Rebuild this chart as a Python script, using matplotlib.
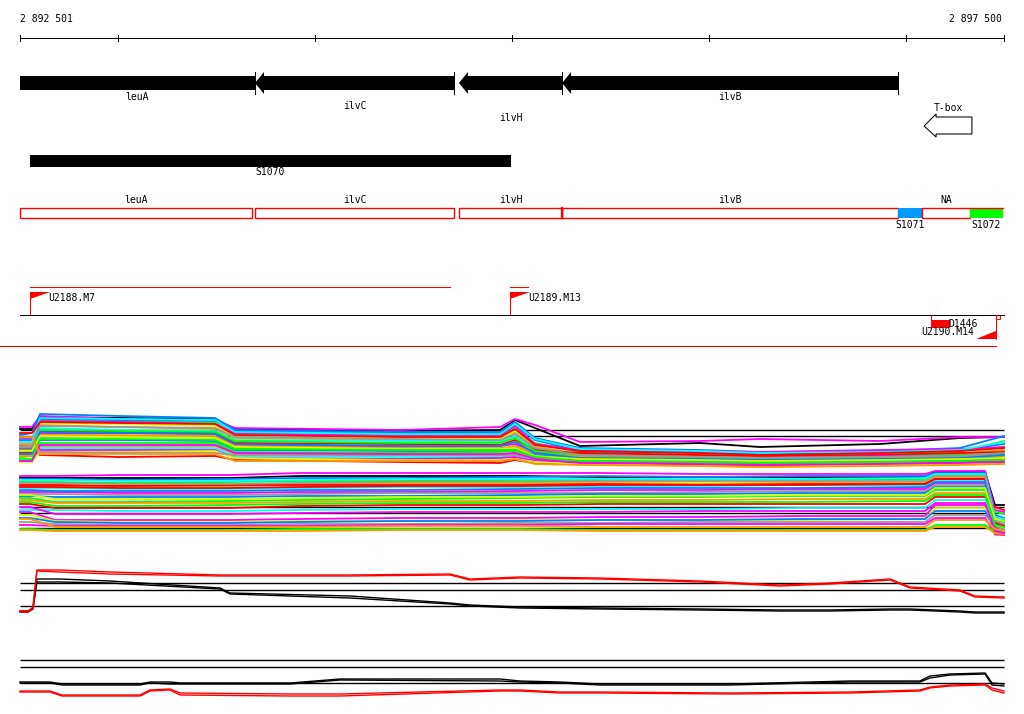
import matplotlib
matplotlib.use("Agg")
import matplotlib.pyplot as plt
from matplotlib.patches import Rectangle, Polygon

W, H = 1024, 714
START, END = 2892501, 2897500
PX_L, PX_R = 20, 1004
BPP = (END - START) / (PX_R - PX_L)
XLIM = (START - PX_L * BPP, START + (W - PX_L) * BPP)
FONT = dict(family="DejaVu Sans Mono", fontsize=7)
LW = 0.75

# ---------------- data ----------------
ruler_ticks = [2893000, 2894000, 2895000, 2896000, 2897000]

gene_names = ["leuA", "ilvC", "ilvH", "ilvB"]
gene_starts = [2891800, 2893695, 2894731, 2895255]
gene_ends = [2893695, 2894706, 2895255, 2896962]
gene_label_rows = [0, 1, 2, 0]

tbox_name = "T-box"
tbox_start, tbox_end = 2897094, 2897337

s1070_name = "S1070"
s1070_start, s1070_end = 2892552, 2894995

seg_names = ["leuA", "ilvC", "ilvH", "ilvB", "S1071", "NA", "S1072"]
seg_starts = [2892501, 2893695, 2894731, 2895255, 2896962, 2897083, 2897327]
seg_ends = [2893680, 2894706, 2895255, 2896962, 2897083, 2897327, 2897495]
seg_fill = [None, None, None, None, "#0099ff", None, "#00ff00"]
seg_label_below = [False, False, False, False, True, False, True]

tu_names = ["U2188.M7", "U2189.M13"]
tu_starts = [2892552, 2894990]
tu_ends = [2894686, 2895082]
tu_rev_name = "U2190.M14"
tu_rev_pos = 2897459
d_name = "D1446"
d_start, d_end = 2897129, 2897226

palette = ["#000000", "#ff00ff", "#0080ff", "#00ff00", "#ccff00", "#ff9900",
           "#00ffff", "#ff0000", "#ff00ff", "#999999", "#0080ff", "#00ff00",
           "#ff9900", "#ff0000", "#00ffff", "#ff00ff", "#ccff00", "#0080ff",
           "#999999", "#ff00ff", "#00ff00", "#ff9900", "#00ffff", "#ff0000",
           "#999999", "#0080ff", "#ccff00", "#00ff00", "#ff00ff", "#ff9900"]

# Panel A (upper multi-sample profile)
a_x = [2892501, 2892562, 2892603, 2893009, 2893492, 2893593, 2894432, 2894940,
       2895016, 2895117, 2895346, 2895956, 2896260, 2896870, 2897276, 2897500]
a_ref = [50, 44]
a_lines = [
    [51, 51, 63, 62, 61, 51, 49, 50, 60, 52, 34, 37, 33, 36, 42, 43],
    [53, 53, 64, 61, 60, 52, 50, 53, 61, 55, 38, 39, 41, 39, 43, 43],
    [45, 47, 66, 64, 62, 50, 48, 48, 58, 42, 32, 30, 28, 29, 32, 44],
    [25, 28, 60, 59, 57, 46, 45, 45, 52, 37, 28, 25, 24, 26, 28, 39],
    [22, 25, 57, 56, 54, 44, 42, 41, 49, 34, 25, 22, 21, 23, 25, 34],
    [33, 33, 55, 53, 51, 42, 40, 39, 47, 33, 26, 24, 23, 24, 26, 30],
    [28, 30, 52, 50, 49, 40, 39, 38, 44, 31, 24, 22, 20, 22, 24, 28],
    [30, 30, 49, 48, 47, 37, 36, 35, 40, 30, 27, 25, 24, 25, 27, 28],
    [35, 35, 46, 47, 46, 35, 33, 34, 36, 28, 25, 23, 22, 24, 25, 26],
    [32, 32, 43, 44, 43, 32, 31, 31, 33, 26, 23, 22, 21, 23, 23, 24],
    [27, 28, 40, 40, 39, 30, 29, 29, 31, 25, 22, 21, 19, 21, 22, 23],
    [23, 24, 37, 37, 37, 28, 27, 28, 29, 23, 20, 19, 18, 20, 21, 21],
    [36, 36, 34, 34, 34, 26, 25, 25, 27, 22, 21, 20, 19, 19, 20, 22],
    [28, 28, 25, 23, 24, 20, 18, 17, 20, 17, 16, 15, 14, 16, 18, 20],
    [20, 20, 32, 32, 32, 24, 23, 23, 25, 20, 18, 17, 16, 18, 19, 19],
    [42, 42, 30, 30, 30, 22, 21, 22, 23, 19, 18, 18, 17, 18, 19, 18],
    [18, 18, 28, 28, 29, 22, 20, 20, 21, 18, 16, 14, 13, 15, 16, 17],
    [40, 40, 61, 60, 59, 49, 47, 47, 55, 40, 29, 27, 26, 28, 30, 36],
    [25, 25, 28, 27, 27, 25, 25, 25, 25, 22, 20, 19, 18, 19, 20, 20],
    [31, 31, 59, 58, 56, 47, 44, 44, 54, 36, 30, 29, 28, 30, 31, 33],
    [30, 30, 50, 49, 48, 39, 37, 37, 42, 29, 24, 23, 22, 23, 25, 26],
    [24, 24, 45, 45, 44, 34, 32, 32, 34, 27, 23, 21, 20, 22, 23, 24],
    [38, 38, 62, 61, 60, 48, 46, 46, 56, 41, 31, 29, 27, 28, 30, 38],
    [47, 47, 58, 57, 56, 45, 43, 43, 51, 35, 29, 27, 25, 27, 29, 32],
    [34, 34, 54, 53, 52, 43, 41, 40, 46, 32, 25, 23, 22, 23, 24, 27],
    [26, 26, 48, 47, 46, 36, 34, 34, 38, 27, 22, 21, 20, 21, 22, 25],
    [29, 29, 44, 43, 42, 33, 31, 31, 32, 24, 21, 20, 19, 20, 21, 22],
    [21, 21, 41, 41, 40, 31, 30, 30, 30, 23, 19, 18, 17, 18, 19, 20],
    [19, 19, 35, 35, 35, 27, 26, 26, 27, 21, 17, 16, 15, 16, 17, 18],
    [43, 43, 26, 26, 26, 19, 19, 19, 21, 16, 15, 14, 13, 14, 15, 16],
]

# Panel B (lower multi-sample profile)
b_x = [2892501, 2892552, 2892679, 2893009, 2893568, 2893924, 2894432, 2895041,
       2895448, 2895956, 2896464, 2897099, 2897150, 2897404, 2897454, 2897500]
b_ref = [38, 32, 17]
b_lines = [
    [67, 67, 67, 67, 67, 69, 69, 69, 68, 68, 68, 68, 73, 73, 40, 40],
    [69, 69, 69, 70, 70, 72, 72, 72, 72, 71, 71, 71, 74, 74, 35, 33],
    [66, 66, 66, 65, 66, 67, 67, 68, 69, 68, 69, 69, 72, 72, 30, 27],
    [63, 63, 63, 62, 63, 64, 64, 65, 65, 65, 65, 66, 70, 70, 25, 23],
    [61, 61, 61, 61, 61, 62, 62, 62, 63, 63, 63, 64, 68, 68, 20, 17],
    [59, 59, 59, 59, 59, 61, 61, 61, 62, 61, 62, 62, 67, 67, 15, 13],
    [57, 57, 57, 56, 56, 57, 58, 58, 59, 59, 60, 60, 65, 65, 13, 11],
    [60, 60, 60, 59, 60, 60, 60, 60, 61, 60, 61, 61, 66, 66, 18, 15],
    [53, 53, 53, 52, 52, 53, 53, 54, 55, 55, 56, 56, 62, 62, 23, 20],
    [51, 51, 51, 50, 50, 51, 52, 52, 52, 53, 54, 54, 60, 60, 27, 25],
    [49, 49, 48, 48, 48, 49, 49, 50, 51, 51, 52, 52, 58, 58, 15, 14],
    [47, 47, 43, 43, 44, 45, 46, 47, 48, 48, 49, 49, 55, 55, 33, 31],
    [45, 45, 42, 42, 42, 43, 44, 44, 45, 45, 46, 46, 52, 52, 10, 10],
    [41, 41, 37, 37, 37, 39, 40, 40, 41, 41, 41, 41, 48, 48, 38, 35],
    [35, 35, 35, 34, 34, 35, 36, 36, 36, 36, 37, 37, 45, 45, 21, 19],
    [33, 33, 25, 25, 25, 26, 27, 27, 28, 28, 29, 29, 40, 40, 17, 12],
    [30, 30, 24, 23, 23, 24, 24, 25, 25, 25, 25, 26, 37, 37, 11, 10],
    [27, 27, 23, 22, 22, 23, 24, 24, 25, 25, 26, 26, 34, 34, 15, 13],
    [23, 23, 21, 20, 20, 21, 21, 22, 22, 23, 23, 23, 30, 30, 19, 15],
    [20, 20, 19, 19, 19, 19, 20, 20, 21, 21, 21, 21, 27, 27, 11, 10],
    [16, 16, 15, 15, 15, 16, 16, 16, 15, 15, 15, 15, 20, 20, 13, 13],
    [15, 15, 14, 14, 14, 14, 15, 15, 14, 14, 14, 14, 18, 18, 12, 11],
    [65, 65, 65, 64, 64, 65, 66, 66, 66, 66, 66, 67, 71, 71, 28, 26],
    [58, 58, 58, 57, 57, 58, 59, 59, 60, 60, 60, 61, 66, 66, 22, 19],
    [62, 62, 62, 61, 61, 62, 63, 63, 64, 64, 64, 64, 69, 69, 24, 21],
    [55, 55, 54, 54, 54, 55, 55, 56, 57, 57, 57, 58, 63, 63, 16, 14],
    [50, 50, 46, 46, 46, 47, 48, 48, 49, 49, 50, 50, 57, 57, 26, 24],
    [43, 43, 39, 39, 40, 41, 42, 42, 43, 43, 43, 44, 50, 50, 20, 18],
    [38, 38, 31, 31, 31, 32, 33, 33, 33, 34, 34, 34, 42, 42, 14, 12],
    [26, 26, 18, 18, 18, 18, 19, 19, 18, 18, 18, 18, 25, 25, 16, 14],
]

# Panel C (summary profiles)
c_x = [2892501, 2892542, 2892567, 2892587, 2892704, 2892958, 2893517, 2893568,
       2894178, 2894686, 2894787, 2895041, 2895448, 2895956, 2896362, 2896616,
       2896921, 2897023, 2897276, 2897353, 2897500]
c_ref = [37, 30, 14]
c_red = [
    [9, 9, 13, 50, 50, 48, 45, 45, 45, 46, 41, 43, 42, 39, 35, 37, 41, 33, 30, 24, 23],
    [8, 8, 12, 49, 48, 46, 44, 44, 44, 45, 40, 42, 41, 38, 34, 36, 40, 32, 29, 23, 22],
]
c_black = [
    [9, 9, 12, 41, 41, 39, 32, 27, 24, 17, 15, 13, 12, 11, 10, 10, 11, 11, 9, 8, 8],
    [8, 8, 11, 38, 38, 37, 31, 26, 22, 16, 14, 12, 11, 10, 9, 9, 10, 10, 8, 7, 7],
]

# Panel D (summary profiles)
d_x = [2892501, 2892653, 2892714, 2893111, 2893161, 2893263, 2893314, 2893873,
       2894127, 2894940, 2895041, 2895244, 2895448, 2896108, 2896718, 2897073,
       2897124, 2897226, 2897404, 2897439, 2897500]
d_ref = [50, 43, 27]
d_black = [
    [28, 28, 26, 26, 28, 28, 27, 27, 31, 31, 29, 28, 26, 26, 29, 29, 34, 36, 37, 27, 26],
    [27, 27, 25, 25, 27, 26, 26, 26, 30, 29, 28, 27, 25, 25, 28, 28, 32, 35, 36, 25, 24],
]
d_red = [
    [19, 19, 15, 15, 20, 21, 17, 16, 16, 20, 20, 18, 18, 17, 18, 20, 23, 25, 26, 22, 19],
    [18, 18, 14, 14, 19, 20, 15, 14, 14, 19, 19, 17, 17, 16, 17, 19, 22, 24, 25, 20, 17],
]

# ---------------- drawing ----------------
fig = plt.figure(figsize=(W / 100, H / 100), dpi=100)
fig.patch.set_facecolor("white")

ax = fig.add_axes([0, 0, 1, 1])
ax.set_xlim(XLIM)
ax.set_ylim(H, 0)
ax.axis("off")

def bp(px):
    return px * BPP

def fmt(v):
    return f"{v:,}".replace(",", " ")

# ruler
ry = 38
ax.plot([START, END], [ry, ry], color="black", lw=LW)
for t in [START] + ruler_ticks + [END]:
    ax.plot([t, t], [ry - 3, ry + 3], color="black", lw=LW)
ax.text(START, 19, fmt(START), ha="left", va="center", **FONT)
ax.text(END - bp(2), 19, fmt(END), ha="right", va="center", **FONT)

# genes (reverse strand arrows)
gy = 83
hl = bp(9)
label_y = [97, 106, 118]
for name, s, e, row in zip(gene_names, gene_starts, gene_ends, gene_label_rows):
    if s < START:
        ax.add_patch(Rectangle((START, gy - 7), e - START, 14, color="black", lw=0))
        vs = START
    else:
        ax.add_patch(Polygon([(s, gy), (s + hl, gy - 11), (s + hl, gy - 7), (e, gy - 7),
                              (e, gy + 7), (s + hl, gy + 7), (s + hl, gy + 11)],
                             closed=True, color="black", lw=0))
        vs = s
    ax.plot([e, e], [gy - 11, gy + 11], color="black", lw=LW)
    ax.text((vs + e) / 2, label_y[row], name, ha="center", va="center", **FONT)

# T-box
tb_y = 126
ax.add_patch(Polygon([(tbox_end, tb_y - 9), (tbox_start + bp(12), tb_y - 9),
                      (tbox_start + bp(12), tb_y - 12), (tbox_start, tb_y),
                      (tbox_start + bp(12), tb_y + 11), (tbox_start + bp(12), tb_y + 8),
                      (tbox_end, tb_y + 8)], closed=True, fill=False,
                     edgecolor="black", lw=LW))
ax.text((tbox_start + tbox_end) / 2, 108, tbox_name, ha="center", va="center", **FONT)

# S1070
ax.add_patch(Rectangle((s1070_start, 155), s1070_end - s1070_start, 12, color="black", lw=0))
ax.text((s1070_start + s1070_end) / 2, 172, s1070_name, ha="center", va="center", **FONT)

# segmentation boxes
sy0, sy1 = 207.5, 217.5
for name, s, e, fc, below in zip(seg_names, seg_starts, seg_ends, seg_fill, seg_label_below):
    if fc is None:
        ax.add_patch(Rectangle((s, sy0), e - s, sy1 - sy0, fill=False, edgecolor="red", lw=1.0))
    else:
        ax.add_patch(Rectangle((s, sy0), e - s, sy1 - sy0, facecolor=fc, edgecolor="none"))
    if below:
        ax.text((s + e) / 2, 225, name, ha="center", va="center", **FONT)
    else:
        ax.text((s + e) / 2, 200, name, ha="center", va="center", **FONT)
ax.plot([seg_starts[3], seg_starts[3]], [sy0, sy1], color="red", lw=1.6)
ax.plot([seg_ends[5], seg_ends[6]], [sy0, sy0], color="red", lw=1.0)

# transcription units
for name, s, e in zip(tu_names, tu_starts, tu_ends):
    ax.plot([s, e], [287, 287], color="red", lw=LW)
    ax.plot([s, s], [292, 315], color="red", lw=LW)
    ax.add_patch(Polygon([(s, 292), (s + bp(20), 292), (s, 299)], closed=True,
                         color="red", lw=0))
    ax.text(s + bp(18), 298, name, ha="left", va="center", **FONT)
ax.plot([START, END], [315, 315], color="black", lw=LW)

# D1446
ax.add_patch(Rectangle((d_start, 320), d_end - d_start, 8, color="red", lw=0))
ax.plot([d_start, d_start], [315, 328], color="red", lw=LW)
ax.text(d_end - bp(2), 324, d_name, ha="left", va="center", **FONT)

# reverse TU
ax.plot([tu_rev_pos, tu_rev_pos], [315, 339], color="red", lw=LW)
ax.add_patch(Polygon([(tu_rev_pos, 339), (tu_rev_pos - bp(20), 339), (tu_rev_pos, 331)],
                     closed=True, color="red", lw=0))
ax.add_patch(Rectangle((tu_rev_pos, 315), bp(4), 4, fill=False, edgecolor="red", lw=LW))
ax.text(tu_rev_pos - bp(22), 332, tu_rev_name, ha="right", va="center", **FONT)

ax.plot([XLIM[0], tu_rev_pos], [346, 346], color="red", lw=LW)

# signal panels
def panel(top, bottom):
    p = fig.add_axes([0, 1 - bottom / H, 1, (bottom - top) / H])
    p.set_xlim(XLIM)
    p.set_ylim(0, bottom - top)
    p.axis("off")
    return p

pa = panel(400, 480)
pa.hlines(a_ref, START, END, color="black", lw=1.0)
for i, ys in enumerate(a_lines):
    pa.plot(a_x, ys, color=palette[i % len(palette)], lw=1.3)

pb = panel(465, 545)
pb.hlines(b_ref, START, END, color="black", lw=1.0)
for i, ys in enumerate(b_lines):
    pb.plot(b_x, ys, color=palette[i % len(palette)], lw=1.3)

pc = panel(560, 620)
pc.hlines(c_ref, START, END, color="black", lw=1.0)
for ys in c_black:
    pc.plot(c_x, ys, color="black", lw=1.0)
for ys in c_red:
    pc.plot(c_x, ys, color="red", lw=1.0)

pd_ = panel(650, 710)
pd_.hlines(d_ref, START, END, color="black", lw=1.0)
for ys in d_black:
    pd_.plot(d_x, ys, color="black", lw=1.0)
for ys in d_red:
    pd_.plot(d_x, ys, color="red", lw=1.0)

fig.savefig("out.png", dpi=100, facecolor="white")
